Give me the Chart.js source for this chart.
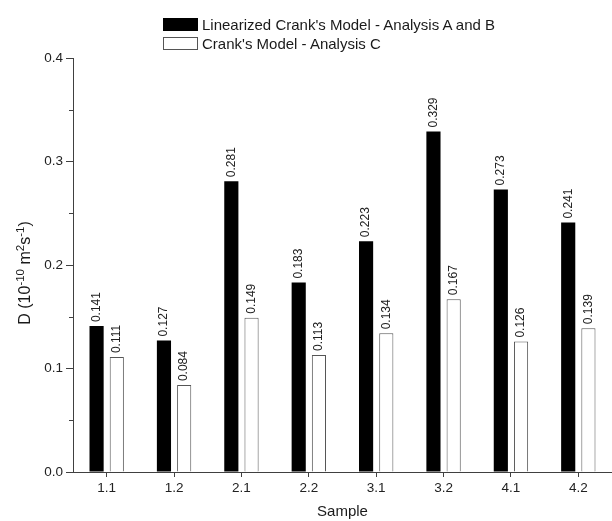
<!DOCTYPE html>
<html>
<head>
<meta charset="utf-8">
<script src="https://cdn.jsdelivr.net/npm/chart.js@4.4.1/dist/chart.umd.min.js"></script>
<style>
  html, body { margin: 0; padding: 0; background: #fff; overflow: hidden; }
  #wrap { position: relative; width: 612px; height: 521px; }
  .legend { position: absolute; left: 163px; font-family: "Liberation Sans", Arial, sans-serif; font-size: 15px; color: #1a1a1a; }
  .legend div { position: relative; height: 19px; line-height: 13px; padding-left: 39px; }
  .legend span { position: absolute; left: 0; top: 0; width: 35px; height: 13px; box-sizing: border-box; }
</style>
</head>
<body>
<div id="wrap">
  <canvas id="chart" width="612" height="521"></canvas>
  <div class="legend" style="top:18px">
    <div><span style="background:#000;border:1px solid #000"></span>Linearized Crank's Model - Analysis A and B</div>
    <div><span style="background:#fff;border:1px solid #555"></span>Crank's Model - Analysis C</div>
  </div>
</div>
<script>
const samples = ['1.1', '1.2', '2.1', '2.2', '3.1', '3.2', '4.1', '4.2'];
const linearized = [0.141, 0.127, 0.281, 0.183, 0.223, 0.329, 0.273, 0.241];
const crank = [0.111, 0.084, 0.149, 0.113, 0.134, 0.167, 0.126, 0.139];
const yTicks = [0.0, 0.1, 0.2, 0.3, 0.4];

const FONT = '"Liberation Sans", Arial, sans-serif';

// rotated value labels above every bar
const barLabels = {
    id: 'barLabels',
    afterDatasetsDraw(chart) {
        const ctx = chart.ctx;
        ctx.save();
        ctx.font = '12px ' + FONT;
        ctx.fillStyle = '#222';
        ctx.textAlign = 'left';
        ctx.textBaseline = 'middle';
        chart.data.datasets.forEach((ds, i) => {
            chart.getDatasetMeta(i).data.forEach((bar, j) => {
                ctx.save();
                ctx.translate(bar.x, bar.y - 4);
                ctx.rotate(-Math.PI / 2);
                ctx.fillText(ds.data[j].toFixed(3), 0, 0);
                ctx.restore();
            });
        });
        ctx.restore();
    }
};

// minor ticks on y axis + y title with superscripts
const extras = {
    id: 'extras',
    afterDraw(chart) {
        const ctx = chart.ctx;
        const y = chart.scales.y;
        const left = chart.chartArea.left;
        ctx.save();
        ctx.strokeStyle = '#404040';
        ctx.lineWidth = 1;
        for (let v = 0.05; v < 0.4; v += 0.1) {
            const py = Math.round(y.getPixelForValue(v)) + 0.5;
            ctx.beginPath();
            ctx.moveTo(left - 4, py);
            ctx.lineTo(left, py);
            ctx.stroke();
        }
        const parts = [['D (10', 0], ['-10', 1], [' m', 0], ['2', 1], ['s', 0], ['-1', 1], [')', 0]];
        const big = '16px ' + FONT, small = '11.5px ' + FONT;
        let total = 0;
        parts.forEach(p => { ctx.font = p[1] ? small : big; total += ctx.measureText(p[0]).width; });
        ctx.translate(30, 273);
        ctx.rotate(-Math.PI / 2);
        ctx.fillStyle = '#1a1a1a';
        ctx.textBaseline = 'alphabetic';
        ctx.textAlign = 'left';
        let x = -total / 2;
        parts.forEach(p => {
            ctx.font = p[1] ? small : big;
            ctx.fillText(p[0], x, p[1] ? -6.5 : 0);
            x += ctx.measureText(p[0]).width;
        });
        ctx.restore();
    }
};

new Chart(document.getElementById('chart'), {
    type: 'bar',
    data: {
        labels: samples,
        datasets: [{
            label: "Linearized Crank's Model - Analysis A and B",
            data: linearized,
            backgroundColor: '#000',
            borderColor: '#000',
            borderWidth: 0,
            categoryPercentage: 0.6,
            barPercentage: 0.7
        }, {
            label: "Crank's Model - Analysis C",
            data: crank,
            backgroundColor: '#fff',
            borderColor: '#555',
            borderWidth: 1,
            categoryPercentage: 0.6,
            barPercentage: 0.7
        }]
    },
    options: {
        responsive: false,
        animation: false,
        layout: { padding: { top: 58, right: 0, left: 0, bottom: 0 } },
        plugins: { legend: { display: false }, tooltip: { enabled: false } },
        scales: {
            x: {
                offset: true,
                grid: { offset: false, drawOnChartArea: false, drawTicks: true, tickLength: 5, tickColor: '#404040' },
                border: { display: true, color: '#404040', width: 1 },
                ticks: { font: { family: FONT, size: 13.5 }, color: '#222', padding: 3, maxRotation: 0 },
                title: { display: true, text: 'Sample', font: { family: FONT, size: 15 }, color: '#1a1a1a', padding: { top: 1, bottom: 0 } },
                afterFit(scale) { scale.height = 49; }
            },
            y: {
                min: 0,
                max: 0.4,
                afterBuildTicks(scale) { scale.ticks = yTicks.map(v => ({ value: v })); },
                grid: { drawOnChartArea: false, drawTicks: true, tickLength: 7, tickColor: '#404040' },
                border: { display: true, color: '#404040', width: 1 },
                ticks: { font: { family: FONT, size: 13.5 }, color: '#222', padding: 3, callback: v => v.toFixed(1) },
                afterFit(scale) { scale.width = 73; }
            }
        }
    },
    plugins: [barLabels, extras]
});
</script>
</body>
</html>
